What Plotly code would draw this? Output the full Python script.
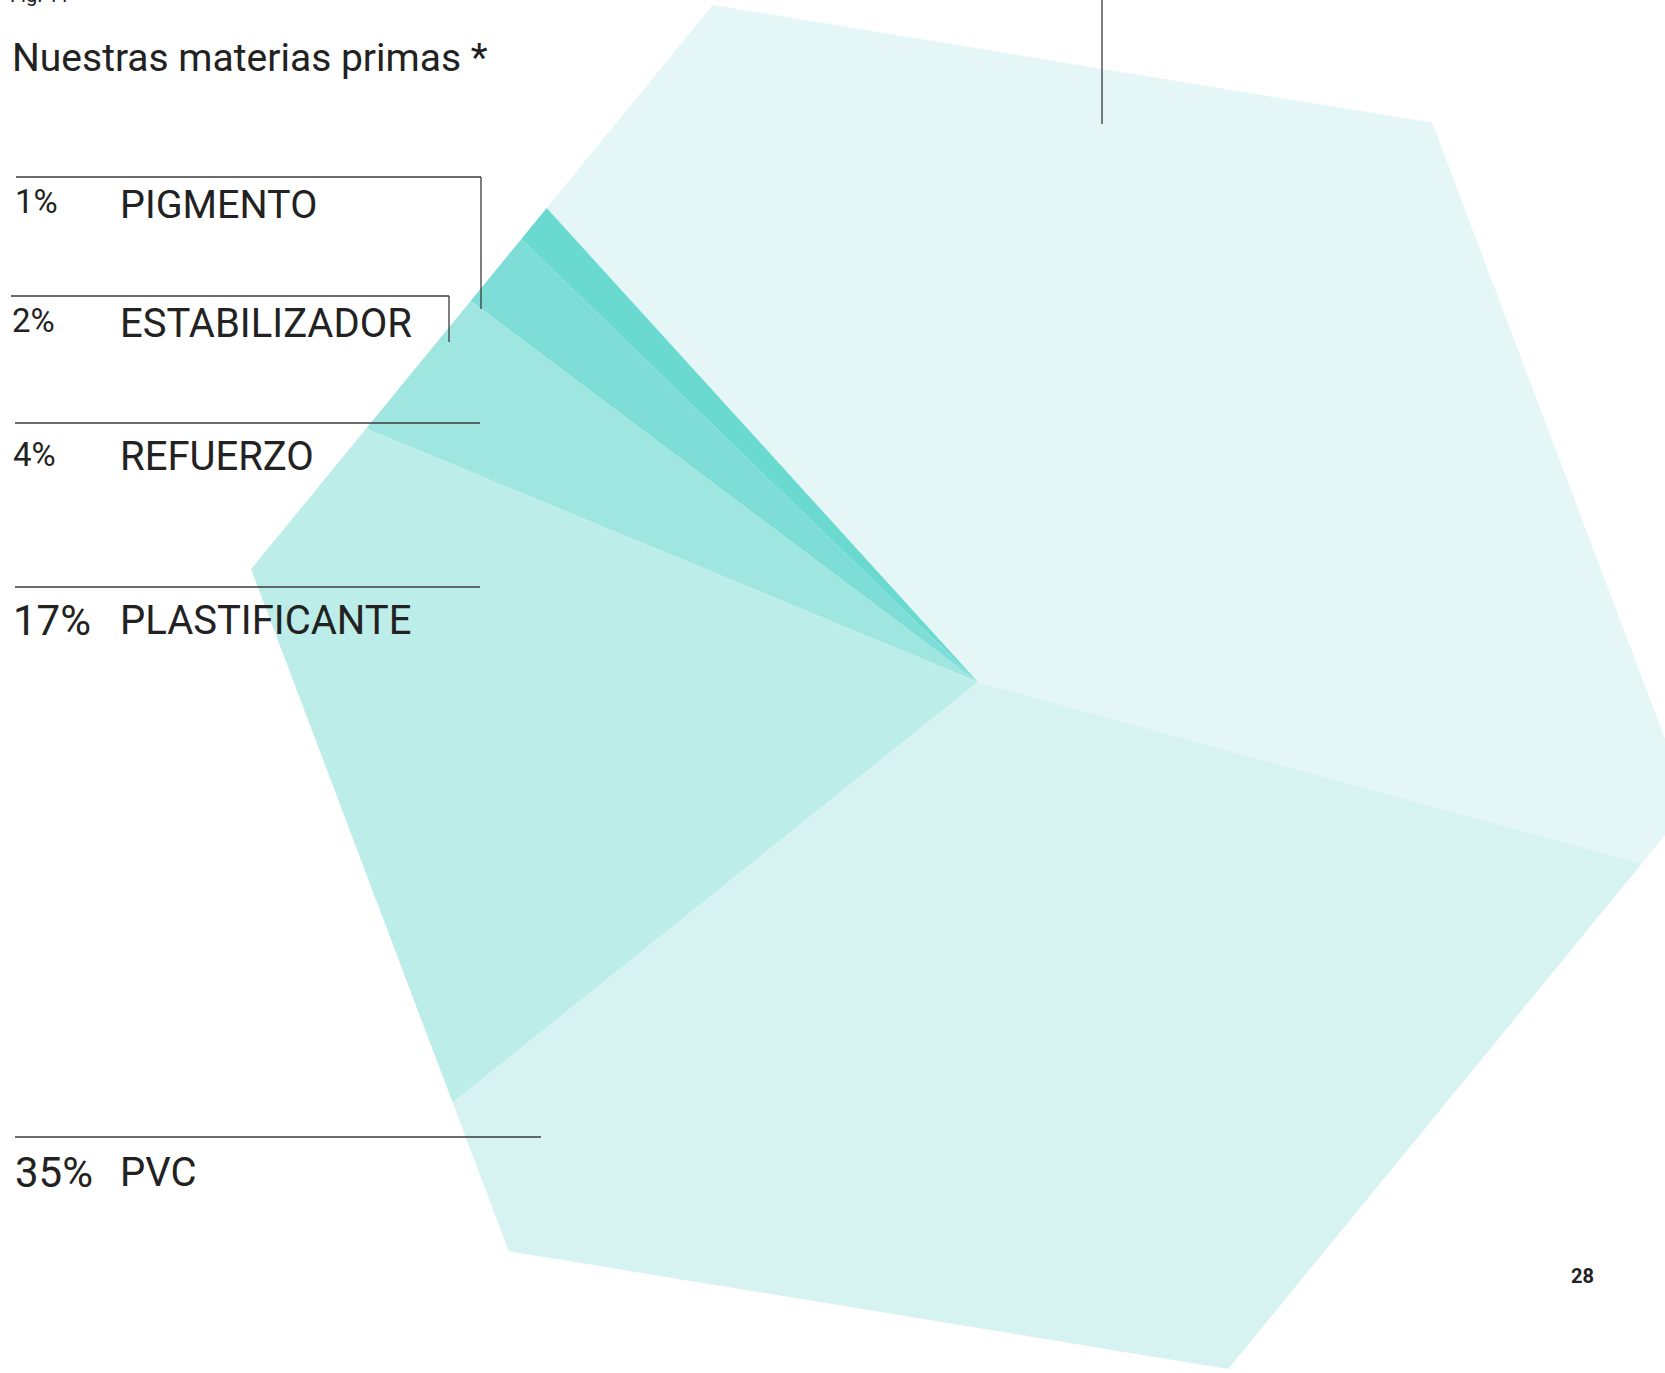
import math
import plotly.graph_objects as go

# ---- data ----
categories = ["CARGAS", "PIGMENTO", "ESTABILIZADOR", "REFUERZO", "PLASTIFICANTE", "PVC"]
values = [41, 1, 2, 4, 17, 35]
colors = ["#E4F7F6", "#6AD9D0", "#7EDDD7", "#A0E6E0", "#BCEDE9", "#D6F3F1"]
label_pct = ["41%", "1%", "2%", "4%", "17%", "35%"]

W, H = 1665, 1373
CX, CY = 978, 682          # pie centre (px)
HX, HY = 970.5, 687.0      # hexagon centre (px)
R = 729                    # hexagon circumradius
HEX_OFF = 50.7             # angle of first hexagon vertex (deg, math orientation)
START = -15.3              # start angle of first slice (deg), counter-clockwise

verts = []
for k in range(6):
    a = math.radians(HEX_OFF + 60 * k)
    verts.append((HX + R * math.cos(a), HY - R * math.sin(a)))


def ray_hit(theta):
    dx, dy = math.cos(math.radians(theta)), -math.sin(math.radians(theta))
    best = None
    for i in range(6):
        ax, ay = verts[i]
        bx, by = verts[(i + 1) % 6]
        ex, ey = bx - ax, by - ay
        den = dx * ey - dy * ex
        if abs(den) < 1e-12:
            continue
        wx, wy = ax - CX, ay - CY
        t = (wx * ey - wy * ex) / den
        s = (wx * dy - wy * dx) / den
        if t > 0 and -1e-9 <= s <= 1 + 1e-9:
            if best is None or t < best:
                best = t
    return CX + best * dx, CY + best * dy


def vang(v):
    return math.degrees(math.atan2(-(v[1] - CY), v[0] - CX))


fig = go.Figure()
total = sum(values)
a0 = START
for name, v, col in zip(categories, values, colors):
    a1 = a0 + 360.0 * v / total
    inner = []
    for vt in verts:
        va = vang(vt)
        while va < a0:
            va += 360
        if va < a1:
            inner.append((va, vt))
    inner.sort()
    pts = [ray_hit(a0)] + [p for _, p in inner] + [ray_hit(a1)]
    xs = [CX] + [p[0] for p in pts] + [CX]
    ys = [CY] + [p[1] for p in pts] + [CY]
    fig.add_trace(go.Scatter(x=xs, y=ys, fill="toself", fillcolor=col, mode="lines",
                             line=dict(width=0, color=col), name=name, hoverinfo="skip",
                             showlegend=False))
    a0 = a1

LINE = dict(color="#3a3a3a", width=1.3)
FONT = "Roboto"
TXT = "#222222"

shapes = [
    dict(type="line", x0=16, y0=177, x1=481, y1=177, line=LINE),
    dict(type="line", x0=481, y0=177, x1=481, y1=309, line=LINE),
    dict(type="line", x0=11, y0=296, x1=449, y1=296, line=LINE),
    dict(type="line", x0=449, y0=296, x1=449, y1=342, line=LINE),
    dict(type="line", x0=15, y0=423, x1=480, y1=423, line=LINE),
    dict(type="line", x0=15, y0=587, x1=480, y1=587, line=LINE),
    dict(type="line", x0=15, y0=1137, x1=541, y1=1137, line=LINE),
    dict(type="line", x0=1102, y0=-20, x1=1102, y1=124, line=LINE),
]
for s in shapes:
    s.update(xref="x", yref="y", layer="above")

ann = []


def add_text(x, y, text, size, bold=False):
    ann.append(dict(x=x, y=y, xref="x", yref="y", text=("<b>%s</b>" % text) if bold else text,
                    showarrow=False, xanchor="left", yanchor="middle",
                    font=dict(family=FONT, size=size, color=TXT)))


ann.append(dict(x=8, y=1, xref="x", yref="paper", text="Fig. 11", showarrow=False,
                xanchor="left", yanchor="bottom", yshift=-9,
                font=dict(family=FONT, size=20, color=TXT)))
add_text(10, 58, "Nuestras materias primas *", 39)
add_text(13, 201, label_pct[1], 33)
add_text(10, 320, label_pct[2], 33)
add_text(11, 454, label_pct[3], 33)
add_text(11, 620, label_pct[4], 42)
add_text(13, 1172, label_pct[5], 42)
add_text(118, 204, categories[1], 39.5)
add_text(118, 323, categories[2], 40)
add_text(118, 456, categories[3], 40)
add_text(118, 620, categories[4], 40)
add_text(118, 1172, categories[5], 40)
ann.append(dict(x=1582, y=1276, xref="x", yref="y", text="<b>28</b>", showarrow=False,
                xanchor="center", yanchor="middle", font=dict(family=FONT, size=20, color=TXT)))

fig.update_layout(
    width=W, height=H, autosize=False,
    margin=dict(l=0, r=0, t=0, b=0),
    paper_bgcolor="white", plot_bgcolor="white",
    xaxis=dict(range=[0, W], visible=False, fixedrange=True),
    yaxis=dict(range=[H, 0], visible=False, fixedrange=True),
    shapes=shapes, annotations=ann,
)

fig.write_html("out.html", config={"displayModeBar": False},
               post_script="document.body.style.margin='0';document.body.style.overflow='hidden';")
